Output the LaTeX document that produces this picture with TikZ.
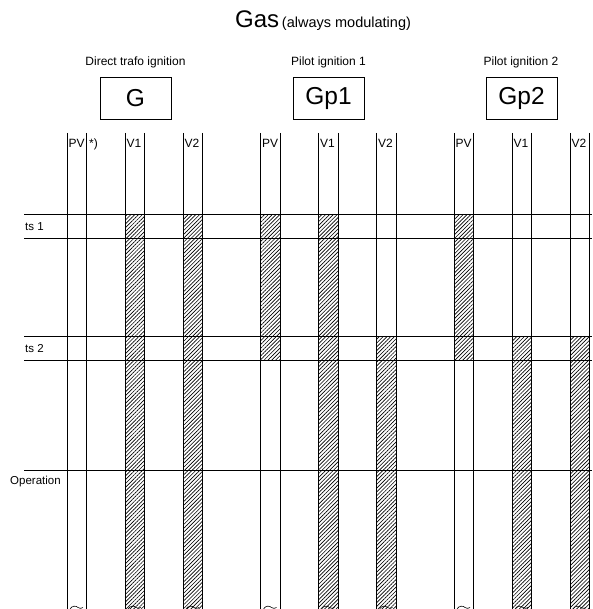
\documentclass[tikz,border=0pt]{standalone}
\usepackage{fontspec}
\setmainfont{Liberation Sans}
\usetikzlibrary{patterns.meta}
\begin{document}
\begin{tikzpicture}[x=1pt,y=-1pt,
  vline/.style={line width=0.9pt},
  hline/.style={line width=1pt},
  hatch/.style={pattern={Lines[angle=45,distance=2.7pt,line width=0.65pt]}},
  collbl/.style={inner sep=0pt,anchor=base west,font=\fontsize{12}{12}\selectfont},
  rowlbl/.style={inner sep=0pt,anchor=base west,font=\fontsize{11.5}{11.5}\selectfont},
  grplbl/.style={inner sep=0pt,anchor=base,font=\fontsize{12}{12}\selectfont},
  boxnode/.style={draw,line width=0.8pt,minimum width=71pt,minimum height=42pt,inner sep=0pt,font=\fontsize{24.5}{24.5}\selectfont}]
\useasboundingbox (0,0) rectangle (592,609);
% hatched regions
\fill[hatch] (125,215) rectangle (144.5,609);
\fill[hatch] (183,215) rectangle (202.5,609);
\fill[hatch] (260.5,215) rectangle (280,360);
\fill[hatch] (318.5,215) rectangle (338,609);
\fill[hatch] (376.5,336) rectangle (396,609);
\fill[hatch] (454,215) rectangle (473.5,360);
\fill[hatch] (512,336) rectangle (531.5,609);
\fill[hatch] (570,336) rectangle (589.5,609);
% horizontal lines
\foreach \yy in {215,238.3,336,360,470.7} {\draw[hline] (24,\yy) -- (592,\yy);}
% columns
\foreach \g in {67,260.5,454} {
  \foreach \o in {0,58,116} {
    \pgfmathsetmacro\L{\g+\o}
    \pgfmathsetmacro\R{\g+\o+19.5}
    \draw[vline] (\L,133) -- (\L,609);
    \draw[vline] (\R,133) -- (\R,609);
    \draw[line width=0.6pt] (\L+3,609) .. controls (\L+5,605.5) and (\L+9,605.5) .. (\L+11,607.5)
      .. controls (\L+12.5,608.8) and (\L+14.5,608.5) .. (\L+16,607.5);
  }
}
% title
\node[inner sep=0pt,anchor=base west] (title) at (235,28)
  {{\fontsize{24}{24}\selectfont Gas} {\fontsize{14.5}{14.5}\selectfont (always modulating)}};
% group labels and boxes
\node[grplbl] (lg) at (135.5,66) {Direct trafo ignition};
\node[grplbl] (lp1) at (328.5,66) {Pilot ignition 1};
\node[grplbl] (lp2) at (521,66) {Pilot ignition 2};
\node[boxnode] (bg) at (135.5,98) {G};
\node[boxnode] (bp1) at (328.5,98) {Gp1};
\node[boxnode] (bp2) at (521.5,98) {Gp2};
% column labels
\node[collbl] (c1) at (68.5,148) {PV};
\node[collbl] (c1s) at (89,148) {*)};
\node[collbl] (c2) at (126.5,148) {V1};
\node[collbl] (c3) at (184.5,148) {V2};
\node[collbl] (c4) at (262,148) {PV};
\node[collbl] (c5) at (320,148) {V1};
\node[collbl] (c6) at (378,148) {V2};
\node[collbl] (c7) at (455.5,148) {PV};
\node[collbl] (c8) at (513.5,148) {V1};
\node[collbl] (c9) at (571.5,148) {V2};
% row labels
\node[rowlbl] (ts1) at (25,230) {ts 1};
\node[rowlbl] (ts2) at (25,352) {ts 2};
\node[rowlbl] (op) at (10,484) {Operation};
\end{tikzpicture}
\end{document}
